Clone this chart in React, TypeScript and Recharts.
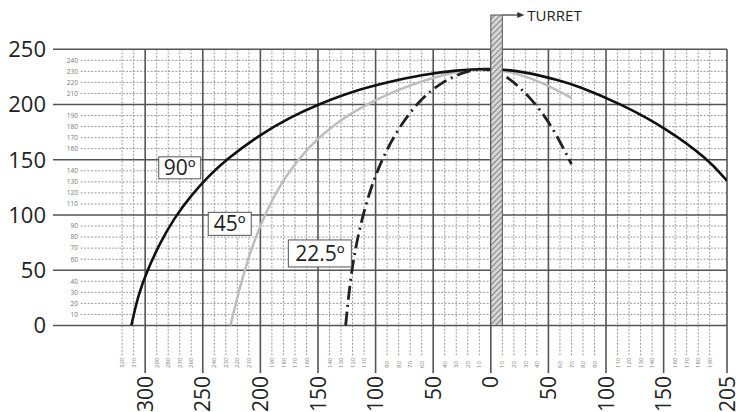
import React from 'react'
import {
  LineChart,
  Line,
  XAxis,
  YAxis,
  ReferenceLine,
  ReferenceArea,
  ReferenceDot,
} from 'recharts'

// grid / tick values
const yMajor = [0, 50, 100, 150, 200, 250]
const yMinor = [10, 20, 30, 40, 60, 70, 80, 90, 110, 120, 130, 140, 160, 170, 180, 190, 210, 220, 230, 240]
const xMajor = [-300, -250, -200, -150, -100, -50, 0, 50, 100, 150, 205]
const xMinor = [
  -320, -310, -290, -280, -270, -260, -240, -230, -220, -210, -190, -180, -170, -160,
  -140, -130, -120, -110, -90, -80, -70, -60, -40, -30, -20, -10,
  10, 20, 30, 40, 60, 70, 80, 90, 110, 120, 130, 140, 160, 170, 180, 190,
]

// 90 deg curve
const x90 = [-312, -306, -298, -288, -275, -260, -245, -230, -200, -175, -150, -120, -90, -60, -30, 0, 30, 59, 75, 112, 153, 188, 205]
const y90 = [0, 28, 50, 73, 97, 118, 135, 150, 173, 188, 200, 212, 220, 227, 231, 233, 229.5, 222, 217, 201, 178, 151, 131]

// 45 deg curve
const x45 = [-226, -219, -209, -195, -178, -158, -135, -110, -82, -52, -25, 0, 20, 45, 70]
const y45 = [0, 30, 67, 104, 136, 162, 183, 199, 213, 224, 231, 233, 229, 220, 206]

// 22.5 deg curve
const x22 = [-126, -122, -116, -107, -95, -80, -62, -42, -20, 0, 15, 33, 52, 70]
const y22 = [0, 42, 79, 116, 150, 179, 204, 221, 231, 233, 225, 208, 183, 146]

const toPts = (xs: number[], ys: number[]) => xs.map((x, i) => ({ x, y: ys[i] }))
const d90 = toPts(x90, y90)
const d45 = toPts(x45, y45)
const d22 = toPts(x22, y22)

const FONT = '"Open Sans", "DejaVu Sans", sans-serif'

const YTick = (props: any) => {
  const { x, y, payload } = props
  const v = payload.value
  if (yMajor.includes(v)) {
    return (
      <text x={x - 7} y={y} dy="0.36em" textAnchor="end" fontSize={22} fill="#222" fontFamily={FONT}>
        {v}
      </text>
    )
  }
  return (
    <text x={x + 25} y={y} dy="0.36em" textAnchor="end" fontSize={6.5} fill="#777" fontFamily={FONT}>
      {v}
    </text>
  )
}

const XTick = (props: any) => {
  const { x, y, payload } = props
  const v = payload.value
  const label = String(Math.abs(v))
  if (xMajor.includes(v)) {
    const ay = y + 3
    return (
      <text x={x} y={ay} dy="0.36em" textAnchor="end" fontSize={21} fill="#222" fontFamily={FONT}
        transform={`rotate(-90, ${x}, ${ay})`}>
        {label}
      </text>
    )
  }
  const ay = y - 5
  return (
    <text x={x} y={ay} dy="0.36em" textAnchor="start" fontSize={6} fill="#777" fontFamily={FONT}
      transform={`rotate(-90, ${x}, ${ay})`}>
      {label}
    </text>
  )
}

const boxShape = (text: string, w: number, h: number) => (p: any) => (
  <g>
    <rect x={p.cx - w / 2} y={p.cy - h / 2} width={w} height={h} fill="#fff" stroke="#555" strokeWidth={1} />
    <text x={p.cx} y={p.cy} dy="0.36em" textAnchor="middle" fontSize={21} fill="#222" fontFamily={FONT}>
      {text}
    </text>
  </g>
)

const turretShape = (p: any) => (
  <g>
    <defs>
      <pattern id="hatch" width="4" height="4" patternUnits="userSpaceOnUse" patternTransform="rotate(45)">
        <rect width="4" height="4" fill="#d6d6d6" />
        <line x1="0" y1="0" x2="0" y2="4" stroke="#666" strokeWidth={1.5} />
      </pattern>
    </defs>
    <rect x={p.x} y={p.y} width={p.width} height={p.height} fill="url(#hatch)" stroke="#555" strokeWidth={1} />
  </g>
)

const turretLabel = (p: any) => (
  <g>
    <line x1={p.cx} y1={p.cy} x2={p.cx + 17} y2={p.cy} stroke="#333" strokeWidth={1.2} />
    <path d={`M${p.cx + 22},${p.cy} L${p.cx + 15},${p.cy - 3} L${p.cx + 15},${p.cy + 3} Z`} fill="#333" />
    <text x={p.cx + 25} y={p.cy + 1} dy="0.36em" fontSize={15} fill="#222" fontFamily={FONT}>
      TURRET
    </text>
  </g>
)

export default function App() {
  return (
    <div style={{ width: 746, height: 412 }}>
      <style>{'body{margin:0}'}</style>
      <LineChart width={746} height={412} margin={{ top: 15, right: 19, bottom: 0, left: 0 }}>
        <XAxis
          type="number"
          dataKey="x"
          domain={[-380, 205]}
          ticks={[...xMajor, ...xMinor]}
          interval={0}
          allowDataOverflow
          axisLine={false}
          tickLine={false}
          tickSize={0}
          tickMargin={0}
          height={39}
          tick={<XTick />}
        />
        <YAxis
          type="number"
          dataKey="y"
          domain={[-43, 281]}
          ticks={[...yMajor, ...yMinor]}
          interval={0}
          allowDataOverflow
          axisLine={false}
          tickLine={false}
          tickSize={0}
          tickMargin={0}
          width={53}
          tick={<YTick />}
        />
        {yMinor.map((v) => (
          <ReferenceLine key={'hy' + v} segment={[{ x: -356, y: v }, { x: 205, y: v }]}
            stroke="#999" strokeWidth={1} strokeDasharray="2 1.5" />
        ))}
        {xMinor.map((v) => (
          <ReferenceLine key={'vx' + v} segment={[{ x: v, y: -27 }, { x: v, y: 250 }]}
            stroke="#999" strokeWidth={1} strokeDasharray="2 1.5" />
        ))}
        {yMajor.map((v) => (
          <ReferenceLine key={'HY' + v} y={v} stroke="#555" strokeWidth={1.6} />
        ))}
        {xMajor.map((v) => (
          <ReferenceLine key={'VX' + v} segment={[{ x: v, y: -43 }, { x: v, y: 250 }]}
            stroke="#555" strokeWidth={1.6} />
        ))}
        <Line data={d45} dataKey="y" type="basis" stroke="#bdbdbd" strokeWidth={2.5} dot={false} isAnimationActive={false} />
        <Line data={d90} dataKey="y" type="basis" stroke="#111" strokeWidth={2.6} dot={false} isAnimationActive={false} />
        <Line data={d22} dataKey="y" type="basis" stroke="#222" strokeWidth={2.8} strokeDasharray="14 5 2 5" dot={false} isAnimationActive={false} />
        <ReferenceArea x1={0} x2={10} y1={0} y2={281} ifOverflow="visible" shape={turretShape} zIndex={1000} />
        <ReferenceDot x={10} y={281} r={0} ifOverflow="visible" shape={turretLabel} zIndex={1000} />
        <ReferenceDot x={-270} y={142.7} r={0} ifOverflow="visible" shape={boxShape('90º', 42, 22)} zIndex={1000} />
        <ReferenceDot x={-226.6} y={92} r={0} ifOverflow="visible" shape={boxShape('45º', 43, 23)} zIndex={1000} />
        <ReferenceDot x={-148.4} y={65.2} r={0} ifOverflow="visible" shape={boxShape('22.5º', 63, 27)} zIndex={1000} />
      </LineChart>
    </div>
  )
}
